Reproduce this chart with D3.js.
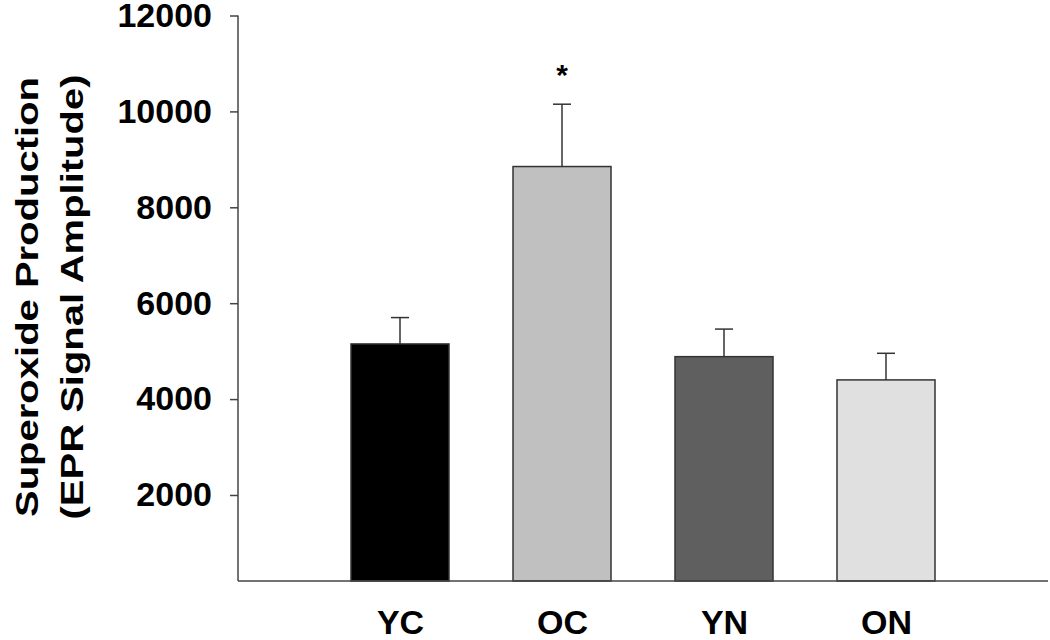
<!DOCTYPE html>
<html>
<head>
<meta charset="utf-8">
<script src="https://cdn.jsdelivr.net/npm/d3@7"></script>
<style>
  body { margin: 0; background: #fff; }
  svg { display: block; font-family: "Liberation Sans", Arial, sans-serif; font-weight: bold; }
</style>
</head>
<body>
<div id="chart"></div>
<script>
// groups and values
const groups = ['YC', 'OC', 'YN', 'ON'];
const means = [5150, 8850, 4885, 4400];
const sems = [550, 1300, 575, 555];
const signif = [false, true, false, false];
const fills = ['#000000', '#c0c0c0', '#5f5f5f', '#e0e0e0'];
const yTicks = [2000, 4000, 6000, 8000, 10000, 12000];

const width = 1050, height = 640;
const plotL = 238, plotR = 1048, plotT = 15.5, plotB = 581;

const svg = d3.select('#chart')
    .append('svg')
    .attr('width', width)
    .attr('height', height);

const y = d3.scaleLinear()
    .domain([206, 12000])
    .range([plotB, plotT]);

// bars sit at slots 1..4 out of 0..5 along the axis
const slot = (plotR - plotL) / 5;
const x = d3.scalePoint()
    .domain(groups)
    .range([plotL + slot, plotR - slot]);
const barW = 98;

// bars
svg.selectAll('rect.bar')
    .data(groups)
    .enter()
    .append('rect')
    .attr('class', 'bar')
    .attr('x', d => x(d) - barW / 2)
    .attr('y', (d, i) => y(means[i]))
    .attr('width', barW)
    .attr('height', (d, i) => plotB - y(means[i]))
    .attr('fill', (d, i) => fills[i])
    .attr('stroke', '#333')
    .attr('stroke-width', 1.5);

// upper error bars
const err = svg.append('g')
    .attr('stroke', '#333')
    .attr('stroke-width', 1.5);

err.selectAll('line.stem')
    .data(groups)
    .enter()
    .append('line')
    .attr('x1', d => x(d))
    .attr('x2', d => x(d))
    .attr('y1', (d, i) => y(means[i]))
    .attr('y2', (d, i) => y(means[i] + sems[i]));

err.selectAll('line.cap')
    .data(groups)
    .enter()
    .append('line')
    .attr('x1', d => x(d) - 9)
    .attr('x2', d => x(d) + 9)
    .attr('y1', (d, i) => y(means[i] + sems[i]))
    .attr('y2', (d, i) => y(means[i] + sems[i]));

// significance star
svg.selectAll('text.star')
    .data(groups.filter((d, i) => signif[i]))
    .enter()
    .append('text')
    .attr('x', d => x(d))
    .attr('y', d => { const i = groups.indexOf(d); return y(means[i] + sems[i]) - 19; })
    .attr('text-anchor', 'middle')
    .attr('font-size', 30)
    .text('*');

// y axis
const yAxis = svg.append('g')
    .attr('transform', `translate(${plotL},0)`)
    .call(d3.axisLeft(y).tickValues(yTicks).tickSize(8).tickSizeOuter(0).tickFormat(d3.format('d')));
yAxis.select('.domain').attr('stroke', '#444').attr('stroke-width', 1.5)
    .attr('d', `M0,${plotB}V${y(12000)}`);
yAxis.selectAll('.tick line').attr('stroke', '#444').attr('stroke-width', 1.5);
yAxis.selectAll('.tick text')
    .attr('x', -26)
    .attr('font-size', 34)
    .attr('font-weight', 'bold')
    .attr('font-family', '"Liberation Sans", Arial, sans-serif')
    .attr('fill', '#000');

// x axis (no ticks)
const xAxis = svg.append('g')
    .attr('transform', `translate(0,${plotB})`)
    .call(d3.axisBottom(x).tickSize(0).tickSizeOuter(0));
xAxis.select('.domain').attr('stroke', '#444').attr('stroke-width', 1.5)
    .attr('d', `M${plotL},0H${plotR}`);
xAxis.selectAll('.tick text')
    .attr('y', 53)
    .attr('dy', 0)
    .attr('font-size', 34)
    .attr('font-weight', 'bold')
    .attr('font-family', '"Liberation Sans", Arial, sans-serif')
    .attr('fill', '#000');

// y axis title, two lines
const titleLines = ['Superoxide Production', '(EPR Signal Amplitude)'];
const titleX = [38, 83];
svg.selectAll('text.ytitle')
    .data(titleLines)
    .enter()
    .append('text')
    .attr('transform', (d, i) => `translate(${titleX[i]},297) rotate(-90)`)
    .attr('text-anchor', 'middle')
    .attr('font-size', 32)
    .attr('textLength', (d, i) => i === 0 ? 440 : 445)
    .attr('lengthAdjust', 'spacingAndGlyphs')
    .text(d => d);
</script>
</body>
</html>
